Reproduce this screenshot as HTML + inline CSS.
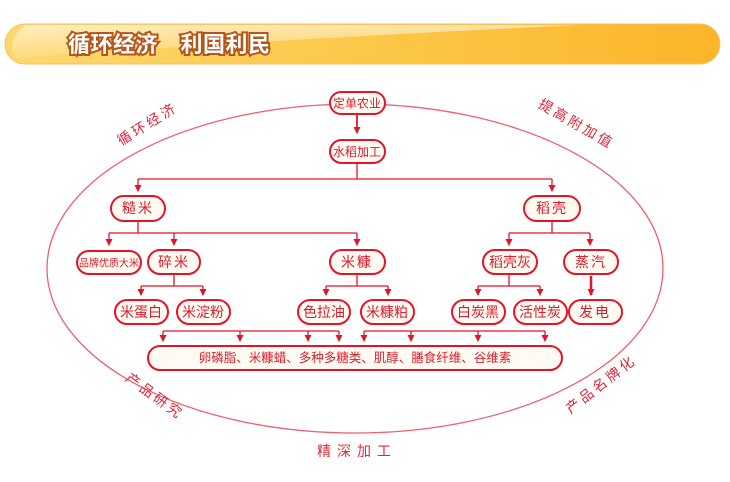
<!DOCTYPE html>
<html><head><meta charset="utf-8"><style>
html,body{margin:0;padding:0;background:#fff;width:730px;height:482px;overflow:hidden}
svg{display:block}
text{font-family:"Liberation Sans","Noto Sans CJK SC",sans-serif}
</style></head><body>
<svg width="730" height="482" viewBox="0 0 730 482" xmlns="http://www.w3.org/2000/svg">
<defs>
<linearGradient id="bar" x1="0" y1="0" x2="1" y2="0">
<stop offset="0" stop-color="#fdd870"/><stop offset="0.5" stop-color="#fcc848"/><stop offset="1" stop-color="#fbb52a"/>
</linearGradient>
<linearGradient id="gl" x1="0" y1="0" x2="0" y2="1">
<stop offset="0" stop-color="#fff" stop-opacity="0.55"/><stop offset="1" stop-color="#fff" stop-opacity="0.1"/>
</linearGradient>
<marker id="ah" markerWidth="7" markerHeight="7" refX="6" refY="3.5" orient="auto" markerUnits="userSpaceOnUse"><path d="M0,0 L7,3.5 L0,7 Z" fill="#e3142a"/></marker>
</defs>
<rect x="5" y="24" width="715" height="40" rx="20" fill="url(#bar)" stroke="#f8c060" stroke-width="1"/>
<path d="M25,25 L580,25 Q300,38 15,58 Q6,40 25,25Z" fill="url(#gl)"/>
<text x="68" y="52" font-size="22" font-weight="bold" fill="#fff" stroke="#b4561a" stroke-width="4" paint-order="stroke" letter-spacing="0.5">循环经济　利国利民</text>

<ellipse cx="355" cy="268.5" rx="308" ry="164.5" fill="none" stroke="#f0606e" stroke-width="1.3"/>

<g fill="#e0263a" font-size="14">
<text transform="translate(150,128) rotate(-32)" text-anchor="middle" letter-spacing="3">循环经济</text>
<text transform="translate(574,128) rotate(30)" text-anchor="middle" letter-spacing="3">提高附加值</text>
<text transform="translate(152,400) rotate(36)" text-anchor="middle" letter-spacing="3">产品研究</text>
<text transform="translate(604,388) rotate(-38)" text-anchor="middle" letter-spacing="3">产品名牌化</text>
<text x="357" y="456" text-anchor="middle" letter-spacing="6">精深加工</text>
</g>

<g stroke="#e3142a" stroke-width="1.3" fill="none">
<line x1="357" y1="115" x2="357" y2="133" stroke-width="1.8" marker-end="url(#ah)"/>
<line x1="357" y1="164" x2="357" y2="179"/>
<polyline points="138,179 552,179"/>
<line x1="138" y1="179" x2="138" y2="191" marker-end="url(#ah)"/>
<line x1="552" y1="179" x2="552" y2="191" marker-end="url(#ah)"/>
<line x1="138" y1="222" x2="138" y2="233"/>
<polyline points="109,233 357,233"/>
<line x1="109" y1="233" x2="109" y2="245" marker-end="url(#ah)"/>
<line x1="174" y1="233" x2="174" y2="245" marker-end="url(#ah)"/>
<line x1="357" y1="233" x2="357" y2="245" marker-end="url(#ah)"/>
<line x1="552" y1="222" x2="552" y2="233"/>
<polyline points="509,233 590,233"/>
<line x1="509" y1="233" x2="509" y2="245" marker-end="url(#ah)"/>
<line x1="590" y1="233" x2="590" y2="245" marker-end="url(#ah)"/>
<line x1="174" y1="275" x2="174" y2="286"/>
<polyline points="141,286 203,286"/>
<line x1="141" y1="286" x2="141" y2="295" marker-end="url(#ah)"/>
<line x1="203" y1="286" x2="203" y2="295" marker-end="url(#ah)"/>
<line x1="357" y1="275" x2="357" y2="286"/>
<polyline points="326,286 388,286"/>
<line x1="326" y1="286" x2="326" y2="295" marker-end="url(#ah)"/>
<line x1="388" y1="286" x2="388" y2="295" marker-end="url(#ah)"/>
<line x1="509" y1="275" x2="509" y2="286"/>
<polyline points="478,286 540,286"/>
<line x1="478" y1="286" x2="478" y2="295" marker-end="url(#ah)"/>
<line x1="540" y1="286" x2="540" y2="295" marker-end="url(#ah)"/>
<line x1="591" y1="276" x2="591" y2="295" stroke-width="2.5" marker-end="url(#ah)"/>
<polyline points="163,331 339,331"/>
<polyline points="364,331 545,331"/>
<line x1="163" y1="331" x2="163" y2="341" marker-end="url(#ah)"/>
<line x1="240" y1="331" x2="240" y2="341" marker-end="url(#ah)"/>
<line x1="308" y1="331" x2="308" y2="341" marker-end="url(#ah)"/>
<line x1="339" y1="331" x2="339" y2="341" marker-end="url(#ah)"/>
<line x1="364" y1="331" x2="364" y2="341" marker-end="url(#ah)"/>
<line x1="411" y1="331" x2="411" y2="341" marker-end="url(#ah)"/>
<line x1="478" y1="331" x2="478" y2="341" marker-end="url(#ah)"/>
<line x1="545" y1="331" x2="545" y2="341" marker-end="url(#ah)"/>
</g>

<g stroke="#e3142a" stroke-width="2" fill="#fffaf2">
<rect x="330" y="92" width="55" height="22" rx="11"/>
<rect x="330" y="140" width="55" height="23" rx="11.5"/>
<rect x="111" y="196" width="54" height="25" rx="12.5"/>
<rect x="524" y="196" width="56" height="25" rx="12.5"/>
<rect x="77" y="251" width="64" height="23" rx="11.5"/>
<rect x="148" y="250" width="52" height="24" rx="12"/>
<rect x="330" y="250" width="55" height="24" rx="12"/>
<rect x="483" y="250" width="54" height="24" rx="12"/>
<rect x="564" y="250" width="54" height="24" rx="12"/>
<rect x="115" y="300" width="53" height="24" rx="12"/>
<rect x="177" y="300" width="53" height="24" rx="12"/>
<rect x="298" y="300" width="52" height="24" rx="12"/>
<rect x="361" y="300" width="53" height="24" rx="12"/>
<rect x="452" y="300" width="53" height="24" rx="12"/>
<rect x="514" y="300" width="53" height="24" rx="12"/>
<rect x="569" y="300" width="53" height="24" rx="12"/>
<rect x="148" y="346" width="414" height="24" rx="12"/>
</g>

<g fill="#d81e2c" font-size="12" text-anchor="middle">
<text x="357" y="107.5">定单农业</text>
<text x="357" y="156">水稻加工</text>
<text x="138" y="213" font-size="14" letter-spacing="2">糙米</text>
<text x="552" y="213" font-size="14" letter-spacing="2">稻壳</text>
<text x="109" y="266.5" font-size="10">品牌优质大米</text>
<text x="174" y="267" font-size="14" letter-spacing="2">碎米</text>
<text x="357" y="267" font-size="14" letter-spacing="2">米糠</text>
<text x="510" y="267" font-size="14">稻壳灰</text>
<text x="591" y="267" font-size="14" letter-spacing="2">蒸汽</text>
<text x="141" y="317" font-size="14">米蛋白</text>
<text x="203" y="317" font-size="14">米淀粉</text>
<text x="324" y="317" font-size="14">色拉油</text>
<text x="387" y="317" font-size="14">米糠粕</text>
<text x="478" y="317" font-size="14">白炭黑</text>
<text x="540" y="317" font-size="14">活性炭</text>
<text x="595" y="317" font-size="14" letter-spacing="2">发电</text>
<text x="355" y="362" font-size="12.5">卵磷脂、米糠蜡、多种多糖类、肌醇、膳食纤维、谷维素</text>
</g>
</svg>
</body></html>
